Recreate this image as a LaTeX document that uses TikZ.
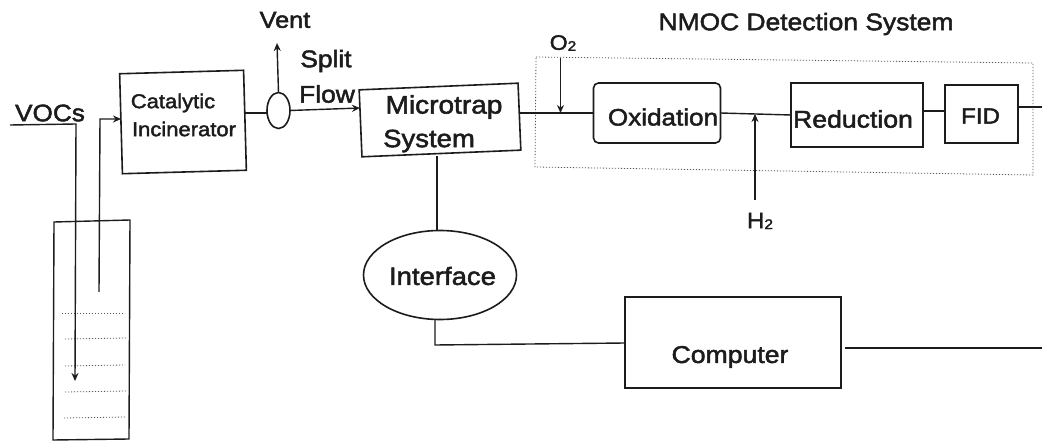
\documentclass[tikz,border=0pt]{standalone}
\usepackage{fontspec}
\setmainfont[FakeBold=2,FakeStretch=1.1]{Liberation Sans}
\usetikzlibrary{arrows.meta,shapes.geometric}
\definecolor{ink}{HTML}{1C1C1C}
\newcommand{\fs}[1]{\fontsize{#1}{#1}\selectfont}
\tikzset{
  x=1pt,y=-1pt,
  every node/.style={text=ink,inner sep=0pt,outer sep=0pt,align=center},
  wire/.style={draw=ink,line width=1.4pt},
  arrowwire/.style={wire,-{Stealth[length=8pt,width=7pt]}},
  blockbox/.style={draw=ink,line width=1.6pt,rectangle,anchor=center},
  roundbox/.style={blockbox,rounded corners=5pt},
  oval/.style={draw=ink,line width=1.6pt,ellipse},
  dotline/.style={draw=ink!75,line width=0.8pt,dash pattern=on 1.2pt off 1.8pt},
}
\begin{document}
\begin{tikzpicture}
\useasboundingbox (0,0) rectangle (1042,441);
\fill[white] (0,0) rectangle (1042,441);

% blocks
\node[blockbox,minimum width=124pt,minimum height=100pt,rotate=1.6] (cat) at (183,122) {};
\node[font=\fs{20}] (cattxt1) at (173,103) {Catalytic};
\node[font=\fs{20}] (cattxt2) at (184,129) {Incinerator};
\node[oval,minimum width=23pt,minimum height=36pt] (split) at (278.5,110.5) {};
\node[blockbox,minimum width=159pt,minimum height=67pt,rotate=2.4] (trap) at (440,120) {};
\node[font=\fs{25.5}] (traptxt1) at (444,107) {Microtrap};
\node[font=\fs{25}] (traptxt2) at (429,141) {System};
\node[roundbox,minimum width=127pt,minimum height=60pt] (ox) at (657,113) {};
\node[font=\fs{23.7}] (oxtxt) at (663,117) {Oxidation};
\node[blockbox,minimum width=132pt,minimum height=64pt] (red) at (857,115) {};
\node[font=\fs{24.2}] (redtxt) at (853,119) {Reduction};
\node[blockbox,minimum width=73pt,minimum height=58pt] (fid) at (981.5,114) {};
\node[font=\fs{22}] (fidtxt) at (980.5,116) {FID};
\node[oval,minimum width=153pt,minimum height=89pt] (iface) at (440,275) {};
\node[font=\fs{25}] (ifacetxt) at (442.5,276) {Interface};
\node[blockbox,minimum width=216pt,minimum height=91pt] (comp) at (733,342.5) {};
\node[font=\fs{24.2}] (comptxt) at (730,357) {Computer};

% vessel
\coordinate (v1) at (54,222);
\coordinate (v2) at (130,220);
\coordinate (v3) at (129,439);
\coordinate (v4) at (53,440);
\draw[wire] (v1) -- (v2) -- (v3) -- (v4) -- cycle;
\foreach \ya/\xa/\yb/\xb in {313/62/313/125,339/65/338/127,366/65/365/125,392/65/391/127,418/64/417/126}
  \draw[dotline] (\xa,\ya) -- (\xb,\yb);

% detection-system frame
\coordinate (f1) at (536,57);
\coordinate (f2) at (1033,63);
\coordinate (f3) at (1033,175);
\coordinate (f4) at (535,167);
\draw[dotline] (f1) -- (f2) -- (f3) -- (f4) -- cycle;

% labels
\node[font=\fs{23.8}] (vocs) at (50,113) {VOCs};
\node[font=\fs{23}] (vent) at (285,20) {Vent};
\node[font=\fs{24}] (splittxt) at (326,61) {Split};
\node[font=\fs{24}] (flowtxt) at (327,94) {Flow};
\node[font=\fs{21}] (o2) at (563,43) {O\raisebox{-1pt}{\fs{14}2}};
\node[font=\fs{22}] (h2) at (760,221) {H\raisebox{-1pt}{\fs{14}2}};
\node[font=\fs{24}] (nmoc) at (806,24) {NMOC Detection System};

% free ends
\coordinate (vocsin) at (10,125);
\coordinate (vocsbend) at (76,124);
\coordinate (vocsend) at (75,381);
\coordinate (retstart) at (99,292);
\coordinate (retbend) at (100,119);
\coordinate (ventend) at (277,43);
\coordinate (o2start) at (560.5,58);
\coordinate (o2end) at (560.5,113);
\coordinate (h2start) at (755,200);
\coordinate (h2end) at (755,114);
\coordinate (ifb) at (435,345);
\coordinate (compr) at (1042,348);
\coordinate (fidr) at (1042,107);

% connectors
\draw[arrowwire] (vocsin) -- (vocsbend) -- (vocsend);
\draw[arrowwire] (retstart) -- (retbend) -- (cat.west |- retbend);
\draw[wire] (245,113) -- (split.west |- 245,113);
\draw[arrowwire] (split.east) -- (360,108);
\draw[arrowwire] (split.north) -- (ventend);
\draw[wire] (520,113) -- (ox.west |- 520,113);
\draw[arrowwire] (o2start) -- (o2end);
\draw[wire] (ox.east) -- (red.west);
\draw[arrowwire] (h2start) -- (h2end);
\draw[wire] (red.east |- 0,111) -- (fid.west |- 0,111);
\draw[wire] (fid.east |- 0,107) -- (fidr);
\draw[wire] (437,156) -- (437,231);
\draw[wire] (435,320) -- (ifb) -- (comp.west |- 0,343);
\draw[wire] (845,348) -- (compr);
\end{tikzpicture}
\end{document}
